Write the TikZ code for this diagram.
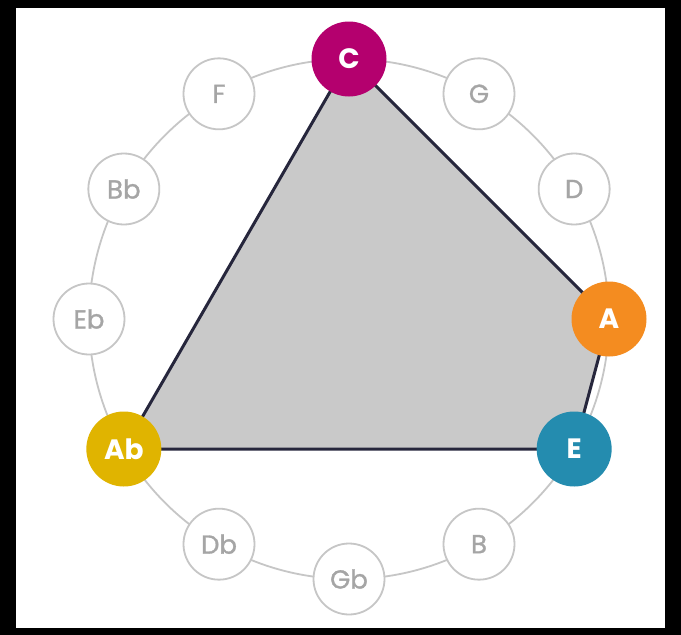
\documentclass[tikz,border=0pt]{standalone}
\usepackage{fontspec}
\setmainfont{Poppins}
\newfontfamily\grayfont[FakeBold=1.2]{Poppins}
\usetikzlibrary{backgrounds}
\definecolor{cC}{RGB}{180,0,110}
\definecolor{cA}{RGB}{244,140,32}
\definecolor{cE}{RGB}{36,140,175}
\definecolor{cAb}{RGB}{224,180,0}
\definecolor{ringgray}{RGB}{198,198,198}
\definecolor{txtgray}{RGB}{165,165,165}
\definecolor{polyfill}{RGB}{201,201,201}
\definecolor{edgecol}{RGB}{38,38,60}
\tikzset{
  note/.style={circle, minimum size=71pt, inner sep=0pt, fill=white, draw=ringgray, line width=1.8pt,
    text=txtgray, font=\grayfont\fontsize{26}{26}\selectfont},
  keynote/.style={circle, minimum size=75pt, inner sep=0pt, fill=#1, draw=none,
    text=white, font=\fontsize{28}{28}\selectfont\bfseries},
}
\begin{document}
\begin{tikzpicture}[x=1pt,y=-1pt]
\useasboundingbox (0,0) rectangle (681,635);
\coordinate (O) at (349,319);
\def\R{260}
\foreach \nm/\lab/\ang in {G/G/60, D/D/30, B/B/-60, Gb/Gb/-90, Db/Db/-120, Eb/Eb/180, Bb/Bb/150, F/F/120}{
  \node[note] (\nm) at ({349+\R*cos(\ang)},{319-\R*sin(\ang)}) {\lab};
}
\node[keynote=cC] (C) at ({349+\R*cos(90)},{319-\R*sin(90)}) {C};
\node[keynote=cA] (A) at ({349+\R*cos(0)},{319-\R*sin(0)}) {A};
\node[keynote=cE] (E) at ({349+\R*cos(-30)},{319-\R*sin(-30)}) {E};
\node[keynote=cAb] (Ab) at ({349+\R*cos(-150)},{319-\R*sin(-150)}) {Ab};
\begin{scope}[on background layer]
  \fill[black] (0,0) rectangle (681,635);
  \fill[white] (16,8) rectangle (665,628);
  \draw[ringgray, line width=1.8pt] (O) circle (\R);
  \filldraw[fill=polyfill, draw=edgecol, line width=3pt, line join=round]
    (C.center) -- (A.center) -- (E.center) -- (Ab.center) -- cycle;
\end{scope}
\end{tikzpicture}
\end{document}
